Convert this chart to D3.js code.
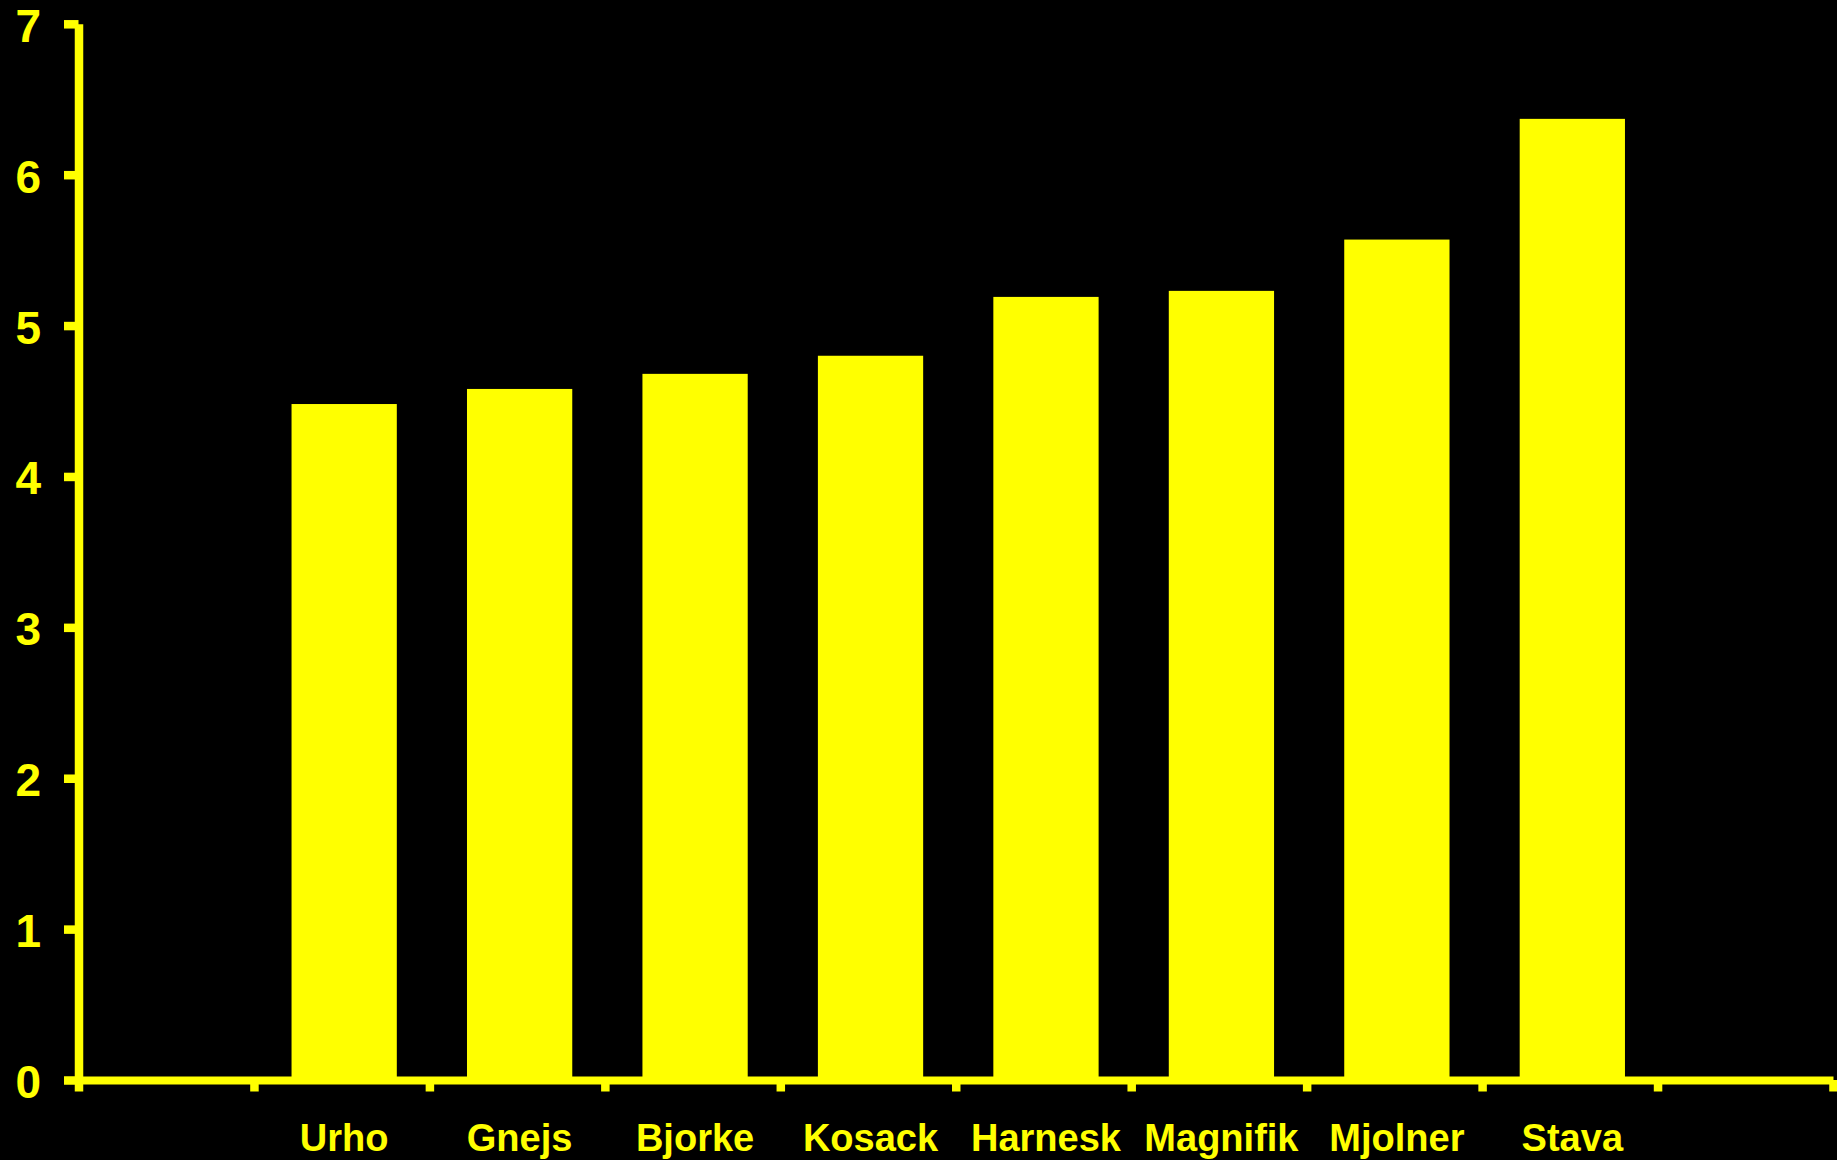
<!DOCTYPE html>
<html>
<head>
<meta charset="utf-8">
<script src="https://cdn.jsdelivr.net/npm/d3@7"></script>
<style>
  html, body { margin: 0; padding: 0; background: #000; }
  svg { display: block; }
</style>
</head>
<body>
<script>
// ---- data ----
const categories = ["", "Urho", "Gnejs", "Bjorke", "Kosack", "Harnesk", "Magnifik", "Mjolner", "Stava", ""];
const values = [null, 4.48, 4.58, 4.68, 4.80, 5.19, 5.23, 5.57, 6.37, null];
const yTicks = [0, 1, 2, 3, 4, 5, 6, 7];

// ---- layout ----
const W = 1837, H = 1160;
const YELLOW = "#ffff00";
const x0 = 78.5, x1 = 1833, yBase = 1080, yTop = 23.8;

const svg = d3.select("body").append("svg")
  .attr("width", W).attr("height", H)
  .style("background", "#000");

const y = d3.scaleLinear().domain([0, 7]).range([yBase, yTop]);
const edge = d3.scaleLinear().domain([0, categories.length]).range([x0, x1]);
const x = d3.scaleBand()
  .domain(d3.range(categories.length))
  .range([x0 + 2.5, x1 + 2.5])
  .paddingInner(0.4)
  .paddingOuter(0.2);

// bars
svg.append("g").selectAll("rect")
  .data(values.map((v, i) => ({ v, i })).filter(d => d.v != null))
  .join("rect")
  .attr("x", d => x(d.i))
  .attr("width", x.bandwidth())
  .attr("y", d => y(d.v))
  .attr("height", d => y(0) - y(d.v))
  .attr("fill", YELLOW);

// x axis (ticks at category edges)
const gx = svg.append("g")
  .attr("transform", `translate(0,${yBase})`)
  .call(d3.axisBottom(edge)
    .tickValues(d3.range(categories.length + 1))
    .tickSizeInner(11.5)
    .tickSizeOuter(0)
    .tickFormat(""));
gx.select(".domain").attr("stroke", YELLOW).attr("stroke-width", 8);
gx.selectAll(".tick line").attr("stroke", YELLOW).attr("stroke-width", 8.5);

// y axis
const gy = svg.append("g")
  .attr("transform", `translate(${x0},0)`)
  .call(d3.axisLeft(y)
    .tickValues(yTicks)
    .tickSizeInner(14.5)
    .tickSizeOuter(0)
    .tickPadding(23)
    .tickFormat(d3.format("d")));
gy.select(".domain").attr("stroke", YELLOW).attr("stroke-width", 8.5);
gy.selectAll(".tick line").attr("stroke", YELLOW).attr("stroke-width", 8.5);
gy.selectAll(".tick text")
  .attr("fill", YELLOW)
  .attr("dy", "0.38em")
  .style("font-family", "'Liberation Sans', Arial, sans-serif")
  .style("font-weight", "bold")
  .style("font-size", "46px");

// category labels
svg.append("g").selectAll("text")
  .data(categories.map((c, i) => ({ c, i })).filter(d => d.c))
  .join("text")
  .attr("x", d => x(d.i) + x.bandwidth() / 2)
  .attr("y", 1151)
  .attr("text-anchor", "middle")
  .attr("fill", YELLOW)
  .style("font-family", "'Liberation Sans', Arial, sans-serif")
  .style("font-weight", "bold")
  .style("font-size", "38px")
  .text(d => d.c);
</script>
</body>
</html>
